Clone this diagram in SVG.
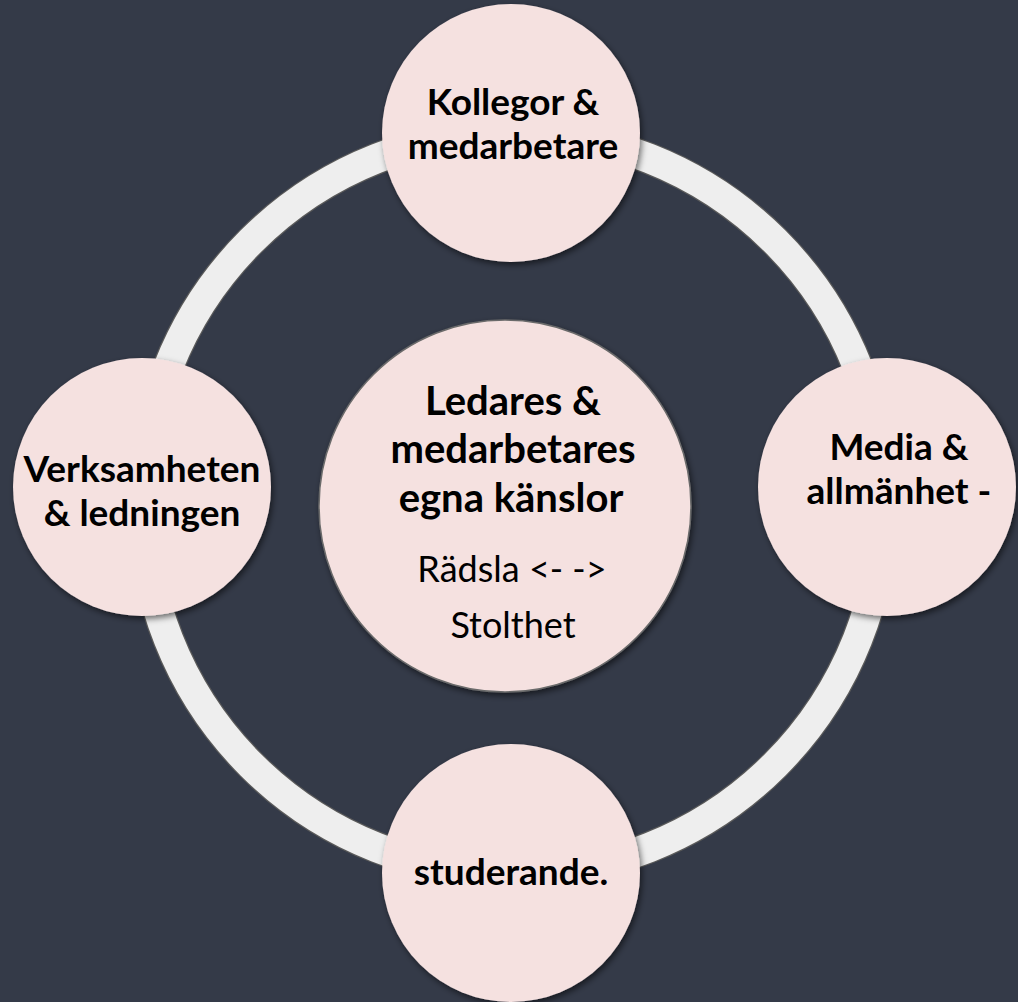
<svg xmlns="http://www.w3.org/2000/svg" width="1018" height="1002" viewBox="0 0 1018 1002">
  <defs>
    <filter id="shadow" x="-20%" y="-20%" width="140%" height="140%">
      <feDropShadow dx="2" dy="3" stdDeviation="3" flood-color="#000" flood-opacity="0.55"/>
    </filter>
    <style>
      .node { fill: #f5e1e0; filter: url(#shadow); }
      .center { fill: #f5e1e0; stroke: #6b6b6b; stroke-width: 1.5; filter: url(#shadow); }
      .lbl { font-family: Lato, "Open Sans", sans-serif; font-weight: 700; font-size: 37px; fill: #000; text-anchor: middle; }
      .lblc { font-family: Lato, "Open Sans", sans-serif; font-weight: 700; font-size: 40px; fill: #000; text-anchor: middle; }
      .sub { font-family: Lato, "Open Sans", sans-serif; font-weight: 400; font-size: 36px; fill: #000; text-anchor: middle; }
    </style>
  </defs>
  <rect x="0" y="0" width="1018" height="1002" fill="#343a48"/>
  <g id="connectors">
    <circle cx="513" cy="503" r="370.5" fill="none" stroke="#5a5a5a" stroke-width="32"/>
    <circle cx="513" cy="503" r="370.5" fill="none" stroke="#eeeeee" stroke-width="29.5"/>
  </g>
  <g id="node-center">
    <circle class="center" cx="505" cy="506" r="186"/>
    <text class="lblc" x="513" y="415">Ledares &amp;</text>
    <text class="lblc" x="513" y="463">medarbetares</text>
    <text class="lblc" x="511" y="512">egna känslor</text>
    <text class="sub" x="512" y="582">Rädsla &lt;- -&gt;</text>
    <text class="sub" x="513" y="638">Stolthet</text>
  </g>
  <g id="node-top">
    <circle class="node" cx="511" cy="133" r="129"/>
    <text class="lbl" x="513" y="115">Kollegor &amp;</text>
    <text class="lbl" x="513" y="159">medarbetare</text>
  </g>
  <g id="node-right">
    <circle class="node" cx="887" cy="487" r="129"/>
    <text class="lbl" x="899" y="460">Media &amp;</text>
    <text class="lbl" x="899" y="504">allmänhet -</text>
  </g>
  <g id="node-bottom">
    <circle class="node" cx="511" cy="873" r="129"/>
    <text class="lbl" x="511" y="885">studerande.</text>
  </g>
  <g id="node-left">
    <circle class="node" cx="142" cy="487" r="129"/>
    <text class="lbl" x="142" y="482">Verksamheten</text>
    <text class="lbl" x="142" y="526">&amp; ledningen</text>
  </g>
</svg>
